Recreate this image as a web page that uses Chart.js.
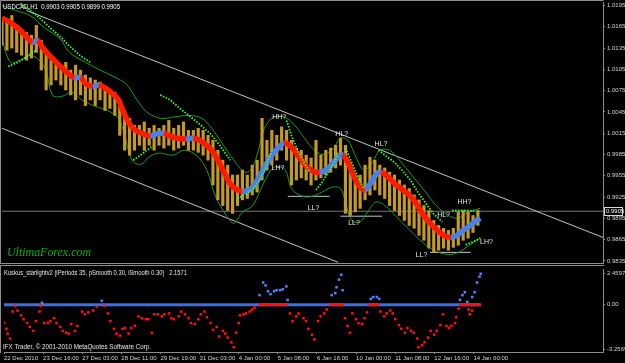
<!DOCTYPE html>
<html>
<head>
<meta charset="utf-8">
<script src="https://cdn.jsdelivr.net/npm/chart.js@4.4.1/dist/chart.umd.min.js"></script>
<style>
  html, body { margin: 0; padding: 0; background: #000; }
  #wrap { position: relative; width: 625px; height: 363px; background: #000; overflow: hidden; }
  #main { position: absolute; left: 0; top: 0; }
  #sub { position: absolute; left: 0; top: 265px; }
</style>
</head>
<body>
<div id="wrap">
  <canvas id="main" width="625" height="265"></canvas>
  <canvas id="sub" width="625" height="98"></canvas>
</div>
<script>
// --- axis ticks ---
const priceTicks = [1.0195, 1.0165, 1.0135, 1.0105, 1.0075, 1.0045, 1.0015, 0.9985, 0.9955, 0.9925, 0.9895, 0.9865, 0.9835];
const timeTickBars = [0, 32, 64, 96, 128, 160, 192, 224, 256, 288, 320, 352, 384];
const timeTickLabels = ['22 Dec 2010', '23 Dec 16:00', '27 Dec 03:00', '28 Dec 11:00', '29 Dec 19:00', '31 Dec 03:00',
  '4 Jan 00:00', '5 Jan 08:00', '6 Jan 16:00', '10 Jan 00:00', '11 Jan 08:00', '12 Jan 16:00', '14 Jan 00:00'];
const subTickValues = [2.4597, 0, -3.2569];
const subTickLabels = ['2.4597', '0.00', '-3.2569'];

const bidPrice = 0.9905;

// --- candles (bar index, high, low) ---
const candleBar = [0,4,8,12,16,20,24,28,32,36,40,44,48,52,56,60,64,68,72,76,80,84,88,92,96,100,104,108,112,116,
  120,124,128,132,136,140,144,148,152,156,160,164,168,172,176,180,184,188,192,196,200,204,208,212,216,220,224,228,232,236,
  240,244,248,252,256,260,264,268,272,276,280,284,288,292,296,300,304,308,312,316,320,324,328,332,336,340,344,348,352,356,
  360,364,368,372,376,380,384,388];
const candleHigh = [1.0174,1.0171,1.0181,1.0167,1.0160,1.0157,1.0153,1.0167,1.0146,1.0132,
  1.0125,1.0118,1.0111,1.0115,1.0104,1.0111,1.0104,1.0097,1.0093,1.0090,
  1.0087,1.0079,1.0076,1.0073,1.0062,1.0047,1.0036,1.0026,1.0026,1.0031,
  1.0022,1.0026,1.0022,1.0026,1.0033,1.0022,1.0026,1.0031,1.0019,1.0019,
  1.0022,1.0019,1.0012,1.0005,0.9991,0.9977,0.9970,0.9956,0.9956,0.9963,
  0.9956,0.9970,0.9977,1.0036,1.0005,1.0019,1.0012,1.0024,1.0019,1.0005,
  0.9994,0.9991,0.9984,0.9980,1.0005,0.9984,0.9991,0.9994,0.9998,1.0008,
  0.9998,0.9963,0.9956,0.9956,0.9970,0.9981,0.9977,0.9970,0.9966,0.9960,
  0.9956,0.9949,0.9942,0.9937,0.9928,0.9921,0.9913,0.9906,0.9892,0.9885,
  0.9881,0.9878,0.9881,0.9904,0.9906,0.9904,0.9899,0.9906];
const candleLow = [1.0139,1.0132,1.0135,1.0129,1.0125,1.0118,1.0121,1.0129,1.0104,1.0076,
  1.0083,1.0090,1.0083,1.0076,1.0069,1.0062,1.0069,1.0054,1.0062,1.0054,
  1.0062,1.0047,1.0050,1.0040,1.0012,0.9991,0.9984,0.9991,0.9998,0.9991,
  0.9998,0.9991,0.9998,0.9994,0.9998,0.9991,0.9994,0.9998,0.9991,0.9991,
  0.9988,0.9984,0.9977,0.9942,0.9921,0.9913,0.9906,0.9902,0.9913,0.9921,
  0.9923,0.9928,0.9932,0.9949,0.9963,0.9970,0.9977,0.9991,0.9977,0.9942,
  0.9949,0.9952,0.9949,0.9942,0.9949,0.9952,0.9956,0.9960,0.9966,0.9970,
  0.9902,0.9899,0.9904,0.9909,0.9921,0.9928,0.9935,0.9928,0.9923,0.9913,
  0.9906,0.9899,0.9892,0.9885,0.9881,0.9871,0.9864,0.9853,0.9847,0.9850,
  0.9853,0.9850,0.9854,0.9857,0.9864,0.9867,0.9875,0.9885];

// --- moving average ribbon ---
const maBar = [0,7,15,21,25,29,33,39,46,52,59,64,68,74,79,84,90,95,99,104,109,115,121,126,132,137,143,150,156,161,
  166,171,176,181,186,191,196,201,205,210,215,220,225,230,235,240,245,249,254,259,264,269,274,278,282,287,292,296,300,305,
  309,315,320,326,332,338,343,349,355,360,366,371,376,382,386,390];
const maValue = [1.0177,1.0171,1.0160,1.0149,1.0143,1.0146,1.0136,1.0124,1.0112,1.0102,
  1.0093,1.0094,1.0085,1.0081,1.0083,1.0079,1.0071,1.0062,1.0045,1.0028,
  1.0019,1.0014,1.0011,1.0014,1.0015,1.0011,1.0008,1.0007,1.0008,1.0005,
  0.9999,0.9991,0.9977,0.9960,0.9944,0.9936,0.9933,0.9935,0.9940,0.9954,
  0.9970,0.9984,0.9994,1.0001,0.9997,0.9987,0.9975,0.9967,0.9961,0.9960,
  0.9963,0.9971,0.9981,0.9984,0.9974,0.9954,0.9939,0.9935,0.9943,0.9957,
  0.9960,0.9953,0.9944,0.9936,0.9928,0.9915,0.9901,0.9888,0.9878,0.9871,
  0.9868,0.9871,0.9878,0.9885,0.9891,0.9895];

// --- bands ---
const bbUpBar = [0,11,23,35,47,55,68,80,92,102,110,118,129,141,153,163,171,179,189,198,
  204,209,214,220,228,236,245,253,261,269,276,282,289,295,302,308,316,324,334,344,354,364,372,380,390];
const bbUpValue = [1.0195,1.0188,1.0181,1.0163,1.0149,1.0129,1.0115,1.0104,1.0094,1.0083,
  1.0062,1.0045,1.0036,1.0038,1.0040,1.0036,1.0022,1.0002,0.9977,0.9960,
  0.9966,0.9991,1.0022,1.0036,1.0039,1.0031,1.0012,0.9994,0.9985,0.9991,
  1.0008,1.0005,0.9980,0.9963,0.9974,0.9991,0.9991,0.9977,0.9956,0.9935,
  0.9913,0.9899,0.9895,0.9904,0.9909];
const bbLoBar = [0,7,15,24,35,41,49,57,65,76,86,95,101,106,113,121,129,139,149,159,
  167,174,183,189,196,204,210,217,223,231,236,245,253,261,269,276,280,285,292,298,
  305,313,321,331,341,352,364,372,380,390];
const bbLoValue = [1.0146,1.0115,1.0118,1.0125,1.0107,1.0069,1.0067,1.0073,1.0062,1.0053,
  1.0047,1.0036,1.0005,0.9977,0.9971,0.9983,0.9987,0.9984,0.9991,0.9983,
  0.9963,0.9926,0.9899,0.9888,0.9904,0.9912,0.9932,0.9957,0.9968,0.9963,
  0.9937,0.9926,0.9926,0.9932,0.9939,0.9937,0.9918,0.9892,0.9890,0.9904,
  0.9918,0.9912,0.9898,0.9881,0.9864,0.9850,0.9844,0.9847,0.9856,0.9867];

// --- parabolic SAR, null = gap between runs ---
const sarBar = [5,13,21,28,28, 15,23,31,39,47,55,64,72,72, 107,113,118,123,123, 129,137,145,153,161,170,178,186,186,
  192,199,205,210,215,220,220, 232,236,241,246,251,251, 256,261,266,271,274,274, 280,285,290,295,295,
  307,313,320,326,333,339,346,352,359,359, 367,373,380,385,385, 378,383,390];
const sarValue = [1.0109,1.0115,1.0124,1.0132,null, 1.0198,1.0188,1.0177,1.0164,1.0152,1.0138,1.0124,1.0115,null,
  0.9977,0.9984,0.9991,0.9997,null, 1.0069,1.0062,1.0050,1.0039,1.0028,1.0014,0.9997,0.9977,null,
  0.9923,0.9929,0.9937,0.9949,0.9966,0.9991,null, 1.0033,1.0012,0.9991,0.9974,0.9960,null,
  0.9935,0.9946,0.9960,0.9974,0.9988,null, 0.9994,0.9974,0.9954,0.9937,null,
  0.9991,0.9983,0.9974,0.9963,0.9949,0.9932,0.9915,0.9901,0.9890,null,
  0.9906,0.9906,0.9906,0.9905,null, 0.9858,0.9861,0.9867];

// --- channel and swing lines ---
const upperChannelBar = [20, 490];
const upperChannelValue = [1.0188, 0.9868];
const lowerChannelBar = [0, 274];
const lowerChannelValue = [1.0022, 0.9833];
const swingLineStart = [233, 276, 349];
const swingLineEnd = [267, 310, 382];
const swingLineValue = [0.9926, 0.9898, 0.9847];
const swingText = ['HH?', 'HL?', 'HL?', 'LH?', 'LL?', 'LL?', 'HH?', 'HL?', 'LH?', 'LL?'];
const swingTextBar = [226, 277, 309, 225, 254, 287, 377, 360, 395, 342];
const swingTextValue = [1.0038, 1.0014, 1.0000, 0.9966, 0.9909, 0.9888, 0.9918, 0.9899, 0.9861, 0.9843];

// --- sub window indicator ---
const redDotBar = [0,2,3,5,7,9,11,14,16,19,21,24,26,29,30,33,36,38,41,43,46,48,51,53,55,58,60,64,66,69,
  73,76,82,85,87,90,92,95,97,99,102,104,107,110,113,116,118,121,123,126,129,131,135,137,139,143,145,148,151,153,
  156,159,161,164,166,169,171,174,176,179,181,183,186,188,190,192,193,196,198,201,203,205,234,236,239,241,245,247,249,252,
  254,257,259,262,264,279,281,283,285,288,290,293,295,297,308,311,313,316,318,320,323,325,328,330,333,335,338,339,342,344,
  347,349,352,354,357,359,362,364,366,369,370,372,380,381,383];
const redDotValue = [-1.26,-1.66,-1.99,-2.33,-0.47,-0.07,-0.40,-0.73,-1.00,-1.26,
  -1.53,-1.80,-1.13,-0.47,-0.07,-1.26,-1.26,-1.13,-0.93,-1.26,
  -1.53,-1.80,-1.93,-1.99,-1.33,-1.80,-1.46,-0.47,-0.66,-0.53,
  -0.40,-0.13,-0.07,-0.60,-1.13,-1.66,-1.99,-2.13,-1.66,-1.60,
  -1.99,-1.60,-1.46,-0.80,-0.93,-1.00,-1.00,-1.93,-0.66,-0.66,
  -0.80,-0.66,-0.60,-0.93,-1.00,-0.80,-0.47,-0.66,-0.93,-1.26,
  -1.33,-1.00,-0.66,-0.47,-0.86,-1.26,-1.73,-1.53,-2.19,-1.80,
  -1.99,-2.26,-2.59,-2.93,-1.93,-1.26,-0.73,-0.66,-0.60,-0.47,
  -0.33,-0.20,-0.60,-1.13,-0.80,-0.60,-0.93,-1.13,-1.66,-2.06,
  -2.39,-1.13,-0.80,-0.60,-0.33,-0.93,-1.46,-1.93,-0.60,-1.00,
  -1.26,-1.33,-0.93,-0.53,-0.47,-0.80,-0.60,-0.40,-0.60,-1.00,
  -1.40,-1.66,-1.93,-1.60,-1.80,-1.93,-2.33,-2.93,-2.79,-2.59,
  -2.26,-1.80,-2.06,-1.80,-1.40,-0.66,-1.46,-1.60,-1.46,-1.26,
  -0.86,-0.27,-0.33,-0.66,-0.40];
const blueDotBar = [31,80,209,212,214,216,218,221,223,226,228,231,232,268,271,272,274,276,277,300,302,305,307,
  373,375,377,379,383,385,387,389,390];
const blueDotValue = [0.13,0.27,0.66,1.53,1.33,0.93,0.73,0.93,1.00,1.00,1.06,1.26,0.33,0.66,0.80,1.20,1.73,2.06,1.00,
  0.40,0.53,0.53,0.40,0.33,0.66,0.86,0.20,0.53,0.86,1.53,1.93,2.13];
const redZeroStart = [208, 266, 298, 372];
const redZeroEnd = [232, 278, 307, 390];
const lastBar = 390;

// colours
const frameGray = '#8c8c8c';
const axisText = '#d4d4d4';
const candleColor = '#c39a22';
const maFall = '#ff1a00';
const maRise = '#4d7fe8';
const maFlat = '#b0b0c4';
const bbColor = '#1f9a1f';
const sarColor = '#35ff35';
const channelColor = '#c4c4c4';
const dotRed = '#ff1010';
const dotBlue = '#4f84ff';

Chart.defaults.font.family = '"Liberation Sans", Arial, sans-serif';
Chart.defaults.color = axisText;

const pts = (xs, ys) => xs.map((x, i) => ({ x: x, y: ys[i] }));

function fitRightAxis(scale) {
  scale.width = 22;
  scale.paddingTop = 0;
  scale.paddingBottom = 0;
}

const swingLines = [];
swingLineStart.forEach((s, i) => {
  swingLines.push({ x: s, y: swingLineValue[i] }, { x: swingLineEnd[i], y: swingLineValue[i] }, { x: swingLineEnd[i], y: null });
});

// text, frame and bid box for the price window
const mainOverlay = {
  id: 'mainOverlay',
  afterDatasetsDraw(chart) {
    const { ctx } = chart;
    const x = chart.scales.x, y = chart.scales.y;
    ctx.save();
    ctx.font = '7px "Liberation Sans", Arial, sans-serif';
    ctx.fillStyle = '#e6e6e6';
    ctx.textAlign = 'center';
    ctx.textBaseline = 'middle';
    swingText.forEach((t, i) => {
      ctx.fillText(t, x.getPixelForValue(swingTextBar[i]), y.getPixelForValue(swingTextValue[i]));
    });

    ctx.textAlign = 'left';
    ctx.fillStyle = '#ffffff';
    ctx.font = '8px "Liberation Sans", Arial, sans-serif';
    ctx.fillText('USDCAD,H1  0.9903 0.9905 0.9899 0.9905', 3, 7, 117);

    ctx.fillStyle = '#00b400';
    ctx.font = 'italic 12px "Liberation Serif", serif';
    ctx.fillText('UltimaForex.com', 7, 253, 84);
    ctx.restore();
  },
  afterDraw(chart) {
    const { ctx } = chart;
    const y = chart.scales.y;
    ctx.save();
    ctx.strokeStyle = frameGray;
    ctx.lineWidth = 1;
    ctx.beginPath();
    ctx.moveTo(0.5, 264);
    ctx.lineTo(0.5, 0.5);
    ctx.lineTo(603.5, 0.5);
    ctx.moveTo(0, 263.5);
    ctx.lineTo(604, 263.5);
    ctx.stroke();

    const by = Math.round(y.getPixelForValue(bidPrice));
    ctx.fillStyle = '#000';
    ctx.fillRect(604, by - 4, 20, 9);
    ctx.strokeStyle = '#d8d8d8';
    ctx.strokeRect(604.5, by - 3.5, 18, 8);
    ctx.fillStyle = '#ffffff';
    ctx.font = '6px "Liberation Sans", Arial, sans-serif';
    ctx.textBaseline = 'middle';
    ctx.fillText(bidPrice.toFixed(4), 606, by + 0.5);
    ctx.restore();
  }
};

new Chart(document.getElementById('main'), {
  type: 'bar',
  data: {
    datasets: [
      { type: 'line', data: pts(upperChannelBar, upperChannelValue), borderColor: channelColor, borderWidth: 1, pointRadius: 0, order: 9 },
      { type: 'line', data: pts(lowerChannelBar, lowerChannelValue), borderColor: channelColor, borderWidth: 1, pointRadius: 0, order: 9 },
      { type: 'line', data: [{ x: 0, y: bidPrice }, { x: 490, y: bidPrice }], borderColor: '#767676', borderWidth: 1, pointRadius: 0, order: 9 },
      { type: 'line', data: swingLines, borderColor: '#c4c4d6', borderWidth: 1, pointRadius: 0, order: 8 },
      { type: 'line', data: pts(bbUpBar, bbUpValue), borderColor: bbColor, borderWidth: 1, pointRadius: 0, tension: 0.35, order: 7 },
      { type: 'line', data: pts(bbLoBar, bbLoValue), borderColor: bbColor, borderWidth: 1, pointRadius: 0, tension: 0.35, order: 7 },
      {
        type: 'bar',
        data: candleBar.map((b, i) => ({ x: b, y: [candleLow[i], candleHigh[i]] })),
        backgroundColor: candleColor, barThickness: 2.5, borderWidth: 0, order: 5
      },
      {
        type: 'line', data: pts(maBar, maValue), borderWidth: 5.5, pointRadius: 0, tension: 0.3,
        borderColor: maFall, borderCapStyle: 'butt', order: 3,
        segment: {
          borderColor: c => {
            const d = c.p1.parsed.y - c.p0.parsed.y;
            return d > 0.00003 ? maRise : (d < -0.00003 ? maFall : maFlat);
          }
        }
      },
      { type: 'line', data: pts(sarBar, sarValue), borderColor: sarColor, borderWidth: 1.8, borderDash: [1.5, 1.5], pointRadius: 0, order: 2 }
    ]
  },
  options: {
    responsive: false,
    animation: false,
    events: [],
    devicePixelRatio: 1,
    layout: { padding: { left: 2, top: 2, right: 0, bottom: 2 } },
    plugins: { legend: { display: false }, tooltip: { enabled: false } },
    scales: {
      x: { type: 'linear', min: 0, max: 490, offset: false, display: false },
      y: {
        position: 'right', min: 0.9832, max: 1.0200,
        afterBuildTicks: s => { s.ticks = priceTicks.map(v => ({ value: v })); },
        afterFit: fitRightAxis,
        ticks: { callback: v => v.toFixed(4), font: { size: 6 }, color: axisText, padding: 2, autoSkip: false },
        grid: { drawOnChartArea: false, tickLength: 2, color: frameGray },
        border: { display: true, color: frameGray }
      }
    }
  },
  plugins: [mainOverlay]
});

// --- indicator window ---
const redZero = [];
redZeroStart.forEach((s, i) => {
  redZero.push({ x: s, y: 0 }, { x: redZeroEnd[i], y: 0 }, { x: redZeroEnd[i], y: null });
});

const subOverlay = {
  id: 'subOverlay',
  afterDraw(chart) {
    const { ctx } = chart;
    ctx.save();
    ctx.strokeStyle = frameGray;
    ctx.lineWidth = 1;
    ctx.beginPath();
    ctx.moveTo(0, 0.5);
    ctx.lineTo(604, 0.5);
    ctx.moveTo(0.5, 0);
    ctx.lineTo(0.5, 88);
    ctx.stroke();

    ctx.fillStyle = '#e6e6e6';
    ctx.font = '7px "Liberation Sans", Arial, sans-serif';
    ctx.textBaseline = 'middle';
    ctx.textAlign = 'left';
    ctx.fillText('Kuskus_starlightv2 (iPeriods 35, pSmooth 0.30, iSmooth 0.30)   2.1571', 4, 8, 183);
    ctx.fillText('IFX Trader, \u00a9 2001-2010 MetaQuotes Software Corp.', 3, 82, 148);
    ctx.restore();
  }
};

new Chart(document.getElementById('sub'), {
  type: 'line',
  data: {
    datasets: [
      { data: [{ x: 0, y: 0 }, { x: lastBar, y: 0 }], borderColor: '#3c6fe6', borderWidth: 3, pointRadius: 0, order: 5 },
      { data: redZero, borderColor: dotRed, borderWidth: 3, pointRadius: 0, order: 4 },
      {
        data: pts(redDotBar, redDotValue), showLine: false, pointStyle: 'rect', pointRadius: 1.8,
        pointBackgroundColor: dotRed, pointBorderWidth: 0, order: 3
      },
      {
        data: pts(blueDotBar, blueDotValue), showLine: false, pointStyle: 'rect', pointRadius: 1.8,
        pointBackgroundColor: dotBlue, pointBorderWidth: 0, order: 2
      }
    ]
  },
  options: {
    responsive: false,
    animation: false,
    events: [],
    devicePixelRatio: 1,
    layout: { padding: { left: 2, top: 1, right: 0, bottom: 0 } },
    plugins: { legend: { display: false }, tooltip: { enabled: false } },
    scales: {
      x: {
        type: 'linear', min: 0, max: 490, offset: false,
        afterBuildTicks: s => { s.ticks = timeTickBars.map(v => ({ value: v })); },
        afterFit: s => { s.height = 11; s.paddingLeft = 0; s.paddingRight = 0; },
        ticks: {
          callback: (v, i) => timeTickLabels[i], align: 'start', autoSkip: false,
          maxRotation: 0, minRotation: 0, font: { size: 6 }, color: axisText, padding: 1
        },
        grid: { drawOnChartArea: false, tickLength: 2, color: frameGray },
        border: { display: true, color: frameGray }
      },
      y: {
        position: 'right', min: subTickValues[2], max: subTickValues[0],
        // outer labels sit just inside the window, as the terminal draws them
        afterBuildTicks: s => {
          s.ticks = [{ value: subTickValues[0] - 0.33 }, { value: subTickValues[1] }, { value: subTickValues[2] + 0.2 }];
        },
        afterFit: fitRightAxis,
        ticks: { callback: (v, i) => subTickLabels[i], font: { size: 6 }, color: axisText, padding: 2, autoSkip: false },
        grid: { drawOnChartArea: false, tickLength: 2, color: frameGray },
        border: { display: true, color: frameGray }
      }
    }
  },
  plugins: [subOverlay]
});
</script>
</body>
</html>
